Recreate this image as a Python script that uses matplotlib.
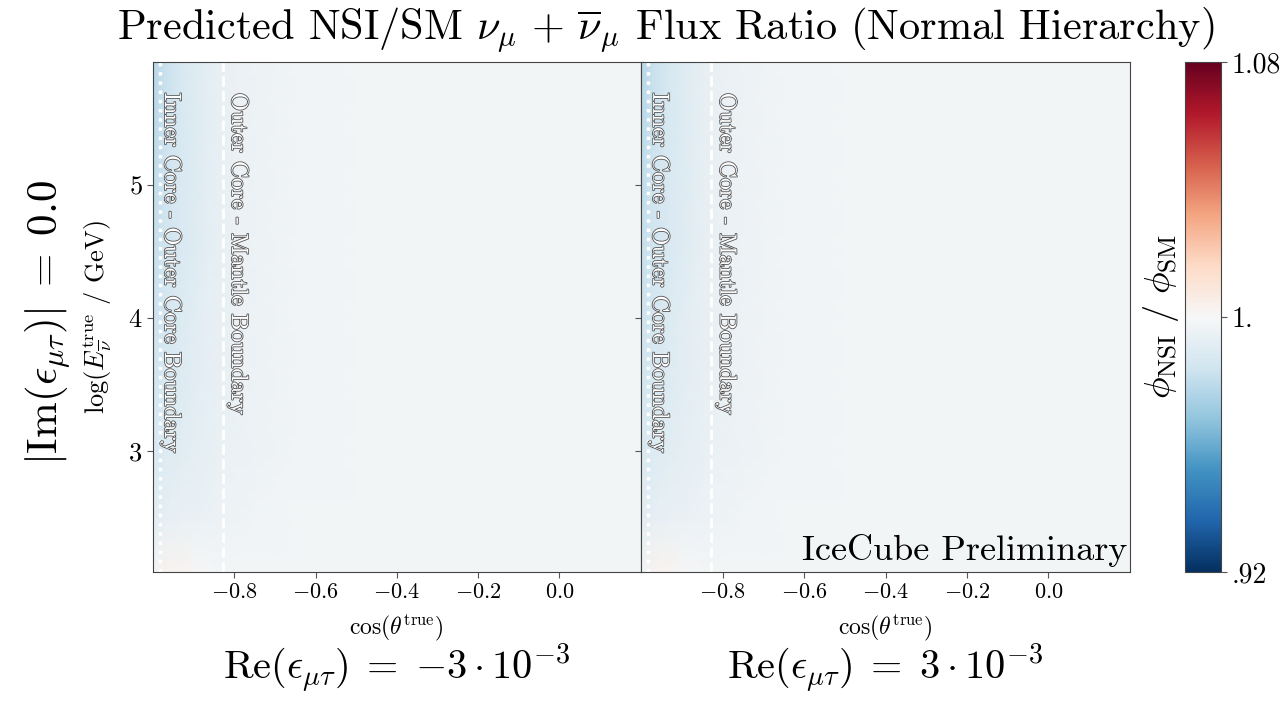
import matplotlib
matplotlib.use("Agg")
import matplotlib.pyplot as plt
import matplotlib.patheffects as pe
import numpy as np

plt.rcParams["mathtext.fontset"] = "cm"
plt.rcParams["font.family"] = ["cmr10", "DejaVu Serif"]
plt.rcParams["axes.unicode_minus"] = False

# grid points (cos zenith, log10 energy) and predicted flux ratio
cos_pts = [-1.0, -0.97, -0.93, -0.88, -0.83, -0.75, -0.65, -0.5, -0.3, 0.0, 0.2]
loge_pts = [2.09, 2.5, 3.0, 3.5, 4.0, 4.5, 5.0, 5.5, 5.92]
ratio_neg = [
    [0.998, 1.003, 1.002, 0.999, 0.998, 0.998, 0.998, 0.998, 0.998, 0.998, 0.998],
    [0.991, 0.993, 0.994, 0.995, 0.996, 0.997, 0.998, 0.998, 0.998, 0.998, 0.998],
    [0.987, 0.989, 0.991, 0.993, 0.995, 0.996, 0.997, 0.998, 0.998, 0.998, 0.998],
    [0.985, 0.987, 0.990, 0.992, 0.994, 0.996, 0.997, 0.998, 0.998, 0.998, 0.998],
    [0.983, 0.986, 0.989, 0.992, 0.994, 0.996, 0.997, 0.998, 0.998, 0.998, 0.998],
    [0.981, 0.985, 0.988, 0.991, 0.994, 0.996, 0.997, 0.998, 0.998, 0.998, 0.998],
    [0.979, 0.984, 0.988, 0.991, 0.994, 0.996, 0.997, 0.998, 0.998, 0.998, 0.998],
    [0.978, 0.983, 0.987, 0.991, 0.994, 0.996, 0.997, 0.998, 0.998, 0.998, 0.998],
    [0.977, 0.982, 0.987, 0.991, 0.994, 0.996, 0.997, 0.998, 0.998, 0.998, 0.998],
]
ratio_pos = ratio_neg
panel_titles = [r"$\mathrm{Re}(\epsilon_{\mu\tau})\;=\;{-}3\cdot10^{-3}$",
                r"$\mathrm{Re}(\epsilon_{\mu\tau})\;=\;3\cdot10^{-3}$"]
xticks = [-0.8, -0.6, -0.4, -0.2, 0.0]
xtick_labels = [r"$-0.8$", r"$-0.6$", r"$-0.4$", r"$-0.2$", r"$0.0$"]
yticks = [3, 4, 5]
inner_core = -0.983
outer_core = -0.828

fig = plt.figure(figsize=(12.8, 7.01), dpi=100)
ax_l = fig.add_axes([0.1195, 0.184, 0.381, 0.7275])
ax_r = fig.add_axes([0.5008, 0.184, 0.382, 0.7275])
cax = fig.add_axes([0.926, 0.184, 0.028, 0.7275])

outline = [pe.withStroke(linewidth=1.2, foreground="#555555")]

for i, (ax, ratio) in enumerate([(ax_l, ratio_neg), (ax_r, ratio_pos)]):
    im = ax.pcolormesh(cos_pts, loge_pts, np.array(ratio), cmap="RdBu_r",
                       vmin=0.92, vmax=1.08, shading="gouraud")
    ax.set_xlim(-1.0, 0.2)
    ax.set_ylim(2.09, 5.92)
    ax.axvline(inner_core, color="white", ls=":", lw=2.5)
    ax.axvline(outer_core, color="white", ls="--", lw=2)
    ax.text(-0.955, 5.69, "Inner Core - Outer Core Boundary", rotation=-90,
            ha="center", va="top", fontsize=17, color="white", path_effects=outline)
    ax.text(-0.79, 5.69, "Outer Core - Mantle Boundary", rotation=-90,
            ha="center", va="top", fontsize=17, color="white", path_effects=outline)
    ax.set_xticks(xticks)
    ax.set_xticklabels(xtick_labels, fontsize=16)
    ax.set_yticks(yticks)
    ax.tick_params(color="#555555", length=4, width=0.8)
    for s in ax.spines.values():
        s.set_color("#444444")
    ax.set_xlabel(r"$\cos(\theta^{\mathrm{true}})$", fontsize=17, labelpad=8)
    if i == 0:
        ax.set_yticklabels([r"$3$", r"$4$", r"$5$"], fontsize=19)
        ax.set_ylabel(r"$\log(E_{\overline{\nu}}^{\mathrm{true}}$ / GeV$)$", fontsize=19, labelpad=10)
    else:
        ax.set_yticklabels([])

for ax, label in zip([ax_l, ax_r], panel_titles):
    pos = ax.get_position()
    fig.text((pos.x0 + pos.x1) / 2, 0.03, label, ha="center", va="baseline", fontsize=29)

ax_r.text(0.995, 0.01, "IceCube Preliminary", transform=ax_r.transAxes,
          ha="right", va="bottom", fontsize=26)

cb = fig.colorbar(im, cax=cax, ticks=[0.92, 1.0, 1.08])
cb.ax.set_yticklabels([".92", "1.", "1.08"], fontsize=20)
cb.ax.tick_params(length=4, color="#555555")
cb.outline.set_edgecolor("#444444")
cb.ax.yaxis.set_label_position("left")
cb.set_label(r"$\phi_{\mathrm{NSI}}\ /\ \phi_{\mathrm{SM}}$", fontsize=26, labelpad=3)

fig.text(0.038, 0.54, r"$|\mathrm{Im}(\epsilon_{\mu\tau})|\;=\;0.0$", rotation=90,
         ha="center", va="center", fontsize=31)
fig.text(0.52, 0.958, r"Predicted NSI/SM $\nu_\mu\,+\,\overline{\nu}_\mu$ Flux Ratio (Normal Hierarchy)",
         ha="center", va="center", fontsize=30.5)

fig.savefig("out.png", dpi=100)
